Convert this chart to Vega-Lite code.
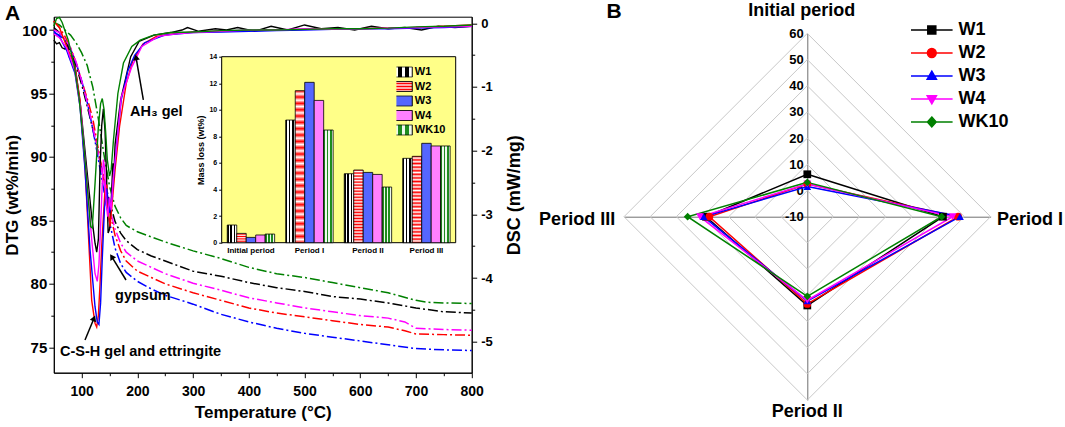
{
  "$schema": "https://vega.github.io/schema/vega-lite/v6.json",
  "width": 417.9,
  "height": 356,
  "autosize": {"type": "none"},
  "padding": {"left": 53.8, "top": 16.7, "right": 593.3, "bottom": 54.3},
  "background": "white",
  "config": {
    "font": "Liberation Sans",
    "axis": {"grid": false, "domainColor": "black", "tickColor": "black", "labelColor": "black", "titleColor": "black", "labelFontWeight": "bold", "titleFontWeight": "bold", "domainWidth": 1, "tickWidth": 1, "labelFont": "Liberation Sans", "titleFont": "Liberation Sans"},
    "view": {"stroke": "black", "strokeWidth": 1},
    "legend": {"labelColor": "black", "labelFont": "Liberation Sans"}
  },
  "datasets": {
    "tg": [
      {"s":"W1","t":50,"v":100.2},{"s":"W1","t":60,"v":99.8},{"s":"W1","t":70,"v":99.2},{"s":"W1","t":80,"v":98.3},{"s":"W1","t":90,"v":97.2},{"s":"W1","t":100,"v":95.7},{"s":"W1","t":110,"v":94.0},{"s":"W1","t":120,"v":92.2},{"s":"W1","t":130,"v":90.3},{"s":"W1","t":140,"v":88.3},{"s":"W1","t":150,"v":86.5},{"s":"W1","t":160,"v":84.9},{"s":"W1","t":170,"v":84.0},{"s":"W1","t":180,"v":83.4},{"s":"W1","t":200,"v":82.7},{"s":"W1","t":225,"v":82.2},{"s":"W1","t":250,"v":81.8},{"s":"W1","t":300,"v":81.0},{"s":"W1","t":350,"v":80.6},{"s":"W1","t":400,"v":80.1},{"s":"W1","t":450,"v":79.7},{"s":"W1","t":500,"v":79.4},{"s":"W1","t":550,"v":79.0},{"s":"W1","t":600,"v":78.8},{"s":"W1","t":650,"v":78.5},{"s":"W1","t":700,"v":78.1},{"s":"W1","t":750,"v":77.8},{"s":"W1","t":800,"v":77.7},
      {"s":"W2","t":50,"v":100.7},{"s":"W2","t":60,"v":100.2},{"s":"W2","t":70,"v":99.5},{"s":"W2","t":80,"v":98.6},{"s":"W2","t":90,"v":97.4},{"s":"W2","t":100,"v":96.0},{"s":"W2","t":110,"v":94.6},{"s":"W2","t":120,"v":93.0},{"s":"W2","t":130,"v":90.6},{"s":"W2","t":140,"v":88.2},{"s":"W2","t":150,"v":85.8},{"s":"W2","t":160,"v":83.8},{"s":"W2","t":170,"v":82.6},{"s":"W2","t":180,"v":81.8},{"s":"W2","t":200,"v":81.0},{"s":"W2","t":225,"v":80.5},{"s":"W2","t":250,"v":80.0},{"s":"W2","t":300,"v":79.3},{"s":"W2","t":350,"v":78.7},{"s":"W2","t":400,"v":78.1},{"s":"W2","t":450,"v":77.7},{"s":"W2","t":500,"v":77.4},{"s":"W2","t":550,"v":77.1},{"s":"W2","t":600,"v":76.8},{"s":"W2","t":650,"v":76.6},{"s":"W2","t":680,"v":76.3},{"s":"W2","t":700,"v":76.05},{"s":"W2","t":750,"v":76.0},{"s":"W2","t":800,"v":75.95},
      {"s":"W3","t":50,"v":99.8},{"s":"W3","t":60,"v":99.6},{"s":"W3","t":70,"v":99.2},{"s":"W3","t":80,"v":98.5},{"s":"W3","t":90,"v":97.4},{"s":"W3","t":100,"v":96.0},{"s":"W3","t":110,"v":94.3},{"s":"W3","t":120,"v":92.2},{"s":"W3","t":130,"v":89.8},{"s":"W3","t":140,"v":87.3},{"s":"W3","t":150,"v":84.9},{"s":"W3","t":160,"v":82.8},{"s":"W3","t":170,"v":81.6},{"s":"W3","t":180,"v":80.9},{"s":"W3","t":200,"v":80.2},{"s":"W3","t":225,"v":79.6},{"s":"W3","t":250,"v":79.1},{"s":"W3","t":300,"v":78.4},{"s":"W3","t":350,"v":77.6},{"s":"W3","t":400,"v":77.0},{"s":"W3","t":450,"v":76.5},{"s":"W3","t":500,"v":76.1},{"s":"W3","t":550,"v":75.8},{"s":"W3","t":600,"v":75.5},{"s":"W3","t":650,"v":75.2},{"s":"W3","t":700,"v":74.9},{"s":"W3","t":750,"v":74.8},{"s":"W3","t":800,"v":74.75},
      {"s":"W4","t":50,"v":100.0},{"s":"W4","t":60,"v":99.8},{"s":"W4","t":70,"v":99.3},{"s":"W4","t":80,"v":98.6},{"s":"W4","t":90,"v":97.5},{"s":"W4","t":100,"v":96.0},{"s":"W4","t":110,"v":94.3},{"s":"W4","t":120,"v":92.4},{"s":"W4","t":130,"v":90.2},{"s":"W4","t":140,"v":88.0},{"s":"W4","t":150,"v":86.0},{"s":"W4","t":160,"v":84.3},{"s":"W4","t":170,"v":83.2},{"s":"W4","t":180,"v":82.5},{"s":"W4","t":200,"v":81.8},{"s":"W4","t":225,"v":81.3},{"s":"W4","t":250,"v":80.8},{"s":"W4","t":300,"v":80.05},{"s":"W4","t":350,"v":79.5},{"s":"W4","t":400,"v":78.9},{"s":"W4","t":450,"v":78.5},{"s":"W4","t":500,"v":78.1},{"s":"W4","t":550,"v":77.8},{"s":"W4","t":600,"v":77.5},{"s":"W4","t":650,"v":77.3},{"s":"W4","t":680,"v":77.0},{"s":"W4","t":700,"v":76.5},{"s":"W4","t":750,"v":76.4},{"s":"W4","t":800,"v":76.35},
      {"s":"WK10","t":50,"v":100.6},{"s":"WK10","t":60,"v":100.4},{"s":"WK10","t":70,"v":100.0},{"s":"WK10","t":80,"v":99.6},{"s":"WK10","t":90,"v":99.0},{"s":"WK10","t":100,"v":98.2},{"s":"WK10","t":110,"v":97.2},{"s":"WK10","t":120,"v":95.5},{"s":"WK10","t":130,"v":93.0},{"s":"WK10","t":140,"v":90.2},{"s":"WK10","t":150,"v":87.7},{"s":"WK10","t":160,"v":86.1},{"s":"WK10","t":170,"v":85.2},{"s":"WK10","t":180,"v":84.6},{"s":"WK10","t":200,"v":84.1},{"s":"WK10","t":225,"v":83.7},{"s":"WK10","t":250,"v":83.3},{"s":"WK10","t":300,"v":82.6},{"s":"WK10","t":350,"v":82.0},{"s":"WK10","t":400,"v":81.3},{"s":"WK10","t":450,"v":80.8},{"s":"WK10","t":500,"v":80.5},{"s":"WK10","t":550,"v":80.1},{"s":"WK10","t":600,"v":79.7},{"s":"WK10","t":650,"v":79.3},{"s":"WK10","t":700,"v":78.7},{"s":"WK10","t":720,"v":78.55},{"s":"WK10","t":750,"v":78.5},{"s":"WK10","t":800,"v":78.45}
    ],
    "sol": [
      {"s":"W1","t":50,"v":99.2},{"s":"W1","t":55,"v":98.9},{"s":"W1","t":60,"v":99.0},{"s":"W1","t":65,"v":98.6},{"s":"W1","t":70,"v":98.5},{"s":"W1","t":75,"v":98.8},{"s":"W1","t":78,"v":97.9},{"s":"W1","t":82,"v":98.0},{"s":"W1","t":88,"v":97.2},{"s":"W1","t":98,"v":94.0},{"s":"W1","t":110,"v":88.7},{"s":"W1","t":118,"v":85.3},{"s":"W1","t":124,"v":83.2},{"s":"W1","t":127,"v":82.5},{"s":"W1","t":130,"v":83.5},{"s":"W1","t":133,"v":89.2},{"s":"W1","t":136,"v":92.5},{"s":"W1","t":139,"v":93.8},{"s":"W1","t":142,"v":92.0},{"s":"W1","t":145,"v":88.0},{"s":"W1","t":147.5,"v":84.0},{"s":"W1","t":150,"v":84.3},{"s":"W1","t":153,"v":86.5},{"s":"W1","t":156,"v":89.5},{"s":"W1","t":158,"v":88.8},{"s":"W1","t":160,"v":91.0},{"s":"W1","t":170,"v":94.5},{"s":"W1","t":188,"v":97.9},{"s":"W1","t":203,"v":99.1},{"s":"W1","t":230,"v":99.6},{"s":"W1","t":260,"v":99.8},{"s":"W1","t":280,"v":100.0},{"s":"W1","t":290,"v":100.2},{"s":"W1","t":310,"v":99.9},{"s":"W1","t":340,"v":100.1},{"s":"W1","t":360,"v":100.0},{"s":"W1","t":380,"v":100.2},{"s":"W1","t":410,"v":99.9},{"s":"W1","t":440,"v":100.3},{"s":"W1","t":470,"v":100.0},{"s":"W1","t":500,"v":100.4},{"s":"W1","t":530,"v":100.1},{"s":"W1","t":560,"v":100.2},{"s":"W1","t":590,"v":100.0},{"s":"W1","t":620,"v":100.3},{"s":"W1","t":650,"v":100.1},{"s":"W1","t":680,"v":100.2},{"s":"W1","t":710,"v":100.0},{"s":"W1","t":740,"v":100.3},{"s":"W1","t":770,"v":100.2},{"s":"W1","t":800,"v":100.3},
      {"s":"W2","t":50,"v":100.7},{"s":"W2","t":60,"v":100.2},{"s":"W2","t":73,"v":98.7},{"s":"W2","t":88,"v":97.1},{"s":"W2","t":97,"v":94.5},{"s":"W2","t":106,"v":89.2},{"s":"W2","t":112,"v":84.0},{"s":"W2","t":118,"v":78.7},{"s":"W2","t":124,"v":76.9},{"s":"W2","t":127,"v":76.6},{"s":"W2","t":130,"v":77.5},{"s":"W2","t":133,"v":80.0},{"s":"W2","t":136,"v":83.0},{"s":"W2","t":139,"v":85.3},{"s":"W2","t":142,"v":87.5},{"s":"W2","t":145,"v":87.8},{"s":"W2","t":148,"v":85.5},{"s":"W2","t":151,"v":84.5},{"s":"W2","t":155,"v":86.5},{"s":"W2","t":160,"v":89.0},{"s":"W2","t":168,"v":92.4},{"s":"W2","t":180,"v":95.8},{"s":"W2","t":192,"v":97.6},{"s":"W2","t":210,"v":98.9},{"s":"W2","t":234,"v":99.5},{"s":"W2","t":264,"v":99.7},{"s":"W2","t":300,"v":99.85},{"s":"W2","t":350,"v":99.9},{"s":"W2","t":400,"v":99.95},{"s":"W2","t":450,"v":100.0},{"s":"W2","t":500,"v":100.05},{"s":"W2","t":550,"v":100.1},{"s":"W2","t":600,"v":100.1},{"s":"W2","t":650,"v":100.15},{"s":"W2","t":700,"v":100.2},{"s":"W2","t":750,"v":100.3},{"s":"W2","t":800,"v":100.4},
      {"s":"W3","t":50,"v":99.9},{"s":"W3","t":60,"v":99.5},{"s":"W3","t":73,"v":98.4},{"s":"W3","t":88,"v":96.6},{"s":"W3","t":97,"v":94.0},{"s":"W3","t":106,"v":89.0},{"s":"W3","t":115,"v":82.7},{"s":"W3","t":124,"v":78.2},{"s":"W3","t":128,"v":77.0},{"s":"W3","t":131,"v":76.8},{"s":"W3","t":134,"v":78.5},{"s":"W3","t":137,"v":82.0},{"s":"W3","t":141,"v":86.0},{"s":"W3","t":145,"v":87.5},{"s":"W3","t":150,"v":85.6},{"s":"W3","t":154,"v":86.8},{"s":"W3","t":159,"v":89.2},{"s":"W3","t":165,"v":92.0},{"s":"W3","t":171,"v":94.5},{"s":"W3","t":183,"v":96.8},{"s":"W3","t":195,"v":98.0},{"s":"W3","t":213,"v":99.0},{"s":"W3","t":249,"v":99.6},{"s":"W3","t":300,"v":99.8},{"s":"W3","t":350,"v":99.85},{"s":"W3","t":400,"v":99.9},{"s":"W3","t":450,"v":99.95},{"s":"W3","t":500,"v":100.0},{"s":"W3","t":550,"v":100.05},{"s":"W3","t":600,"v":100.1},{"s":"W3","t":650,"v":100.1},{"s":"W3","t":700,"v":100.15},{"s":"W3","t":750,"v":100.2},{"s":"W3","t":800,"v":100.3},
      {"s":"W4","t":50,"v":99.7},{"s":"W4","t":60,"v":99.4},{"s":"W4","t":73,"v":98.6},{"s":"W4","t":88,"v":96.8},{"s":"W4","t":98,"v":93.8},{"s":"W4","t":110,"v":87.9},{"s":"W4","t":118,"v":83.5},{"s":"W4","t":124,"v":80.8},{"s":"W4","t":128,"v":80.2},{"s":"W4","t":131,"v":81.5},{"s":"W4","t":134,"v":84.5},{"s":"W4","t":137,"v":88.0},{"s":"W4","t":139,"v":89.8},{"s":"W4","t":141,"v":89.2},{"s":"W4","t":144,"v":86.5},{"s":"W4","t":147,"v":85.3},{"s":"W4","t":150,"v":86.8},{"s":"W4","t":153,"v":85.8},{"s":"W4","t":157,"v":88.5},{"s":"W4","t":162,"v":90.5},{"s":"W4","t":171,"v":94.7},{"s":"W4","t":190,"v":97.1},{"s":"W4","t":208,"v":98.7},{"s":"W4","t":238,"v":99.5},{"s":"W4","t":270,"v":99.7},{"s":"W4","t":300,"v":99.8},{"s":"W4","t":350,"v":99.9},{"s":"W4","t":400,"v":100.0},{"s":"W4","t":450,"v":100.0},{"s":"W4","t":500,"v":100.1},{"s":"W4","t":550,"v":100.05},{"s":"W4","t":600,"v":100.1},{"s":"W4","t":650,"v":100.15},{"s":"W4","t":700,"v":100.2},{"s":"W4","t":750,"v":100.25},{"s":"W4","t":800,"v":100.3},
      {"s":"WK10","t":50,"v":100.3},{"s":"WK10","t":55,"v":100.9},{"s":"WK10","t":60,"v":101.0},{"s":"WK10","t":65,"v":100.6},{"s":"WK10","t":76,"v":99.2},{"s":"WK10","t":87,"v":97.1},{"s":"WK10","t":95,"v":94.8},{"s":"WK10","t":103,"v":91.3},{"s":"WK10","t":110,"v":87.7},{"s":"WK10","t":116,"v":84.5},{"s":"WK10","t":119,"v":84.4},{"s":"WK10","t":124,"v":87.9},{"s":"WK10","t":130,"v":92.4},{"s":"WK10","t":134,"v":94.2},{"s":"WK10","t":137,"v":94.6},{"s":"WK10","t":140,"v":93.8},{"s":"WK10","t":143,"v":92.0},{"s":"WK10","t":146,"v":89.8},{"s":"WK10","t":150,"v":88.5},{"s":"WK10","t":153,"v":89.0},{"s":"WK10","t":157,"v":91.3},{"s":"WK10","t":165,"v":95.0},{"s":"WK10","t":175,"v":97.4},{"s":"WK10","t":190,"v":98.7},{"s":"WK10","t":205,"v":99.2},{"s":"WK10","t":229,"v":99.6},{"s":"WK10","t":260,"v":99.8},{"s":"WK10","t":300,"v":99.85},{"s":"WK10","t":350,"v":99.95},{"s":"WK10","t":400,"v":100.0},{"s":"WK10","t":450,"v":100.0},{"s":"WK10","t":500,"v":100.05},{"s":"WK10","t":550,"v":100.1},{"s":"WK10","t":600,"v":100.1},{"s":"WK10","t":650,"v":100.15},{"s":"WK10","t":700,"v":100.25},{"s":"WK10","t":750,"v":100.3},{"s":"WK10","t":800,"v":100.4}
    ],
    "bars": [
      {"p":"Initial period","m":"W1","v":1.33},{"p":"Initial period","m":"W2","v":0.7},{"p":"Initial period","m":"W3","v":0.4},{"p":"Initial period","m":"W4","v":0.58},{"p":"Initial period","m":"WK10","v":0.65},
      {"p":"Period I","m":"W1","v":9.23},{"p":"Period I","m":"W2","v":11.44},{"p":"Period I","m":"W3","v":12.07},{"p":"Period I","m":"W4","v":10.71},{"p":"Period I","m":"WK10","v":8.48},
      {"p":"Period II","m":"W1","v":5.19},{"p":"Period II","m":"W2","v":5.47},{"p":"Period II","m":"W3","v":5.29},{"p":"Period II","m":"W4","v":5.14},{"p":"Period II","m":"WK10","v":4.19},
      {"p":"Period III","m":"W1","v":6.35},{"p":"Period III","m":"W2","v":6.5},{"p":"Period III","m":"W3","v":7.48},{"p":"Period III","m":"W4","v":7.28},{"p":"Period III","m":"WK10","v":7.28}
    ],
    "radar": [
      {"s":"W1","ax":"Initial period","v":6.2},{"s":"W1","ax":"Period I","v":41.8},{"s":"W1","ax":"Period II","v":23.9},{"s":"W1","ax":"Period III","v":28.7},
      {"s":"W2","ax":"Initial period","v":2.5},{"s":"W2","ax":"Period I","v":47.6},{"s":"W2","ax":"Period II","v":23.3},{"s":"W2","ax":"Period III","v":27.4},
      {"s":"W3","ax":"Initial period","v":1.5},{"s":"W3","ax":"Period I","v":48.3},{"s":"W3","ax":"Period II","v":22.2},{"s":"W3","ax":"Period III","v":29.6},
      {"s":"W4","ax":"Initial period","v":2.5},{"s":"W4","ax":"Period I","v":45.5},{"s":"W4","ax":"Period II","v":21.9},{"s":"W4","ax":"Period III","v":31.0},
      {"s":"WK10","ax":"Initial period","v":3.1},{"s":"WK10","ax":"Period I","v":41.3},{"s":"WK10","ax":"Period II","v":20.4},{"s":"WK10","ax":"Period III","v":35.7}
    ],
    "grid": [
      {"g":0,"ax":"Initial period"},{"g":0,"ax":"Period I"},{"g":0,"ax":"Period II"},{"g":0,"ax":"Period III"},
      {"g":10,"ax":"Initial period"},{"g":10,"ax":"Period I"},{"g":10,"ax":"Period II"},{"g":10,"ax":"Period III"},
      {"g":20,"ax":"Initial period"},{"g":20,"ax":"Period I"},{"g":20,"ax":"Period II"},{"g":20,"ax":"Period III"},
      {"g":30,"ax":"Initial period"},{"g":30,"ax":"Period I"},{"g":30,"ax":"Period II"},{"g":30,"ax":"Period III"},
      {"g":40,"ax":"Initial period"},{"g":40,"ax":"Period I"},{"g":40,"ax":"Period II"},{"g":40,"ax":"Period III"},
      {"g":50,"ax":"Initial period"},{"g":50,"ax":"Period I"},{"g":50,"ax":"Period II"},{"g":50,"ax":"Period III"},
      {"g":60,"ax":"Initial period"},{"g":60,"ax":"Period I"},{"g":60,"ax":"Period II"},{"g":60,"ax":"Period III"}
    ],
    "arr": [
      {"k":1,"t0":210.7,"d0":-1.204,"t1":197.6,"d1":-0.534},
      {"k":2,"t0":179.6,"d0":-4.031,"t1":153.9,"d1":-3.665},
      {"k":3,"t0":106,"d0":-4.973,"t1":122.2,"d1":-4.632}
    ],
    "ann": [
      {"lab":"A","t":-37.6,"d":0.154},
      {"lab":"AH₃ gel","t":186.8,"d":-1.393},
      {"lab":"gypsum","t":159.9,"d":-4.282},
      {"lab":"C-S-H gel and ettringite","t":61.1,"d":-5.157}
    ],
    "rlab": [
      {"lab":"Initial period","x":-2.1,"y":78.5},
      {"lab":"Period I","x":85.0,"y":-1.2},
      {"lab":"Period II","x":0,"y":-74.6},
      {"lab":"Period III","x":-87.9,"y":-1.2},
      {"lab":"B","x":-73.8,"y":78.3}
    ]
  },
  "resolve": {"scale": {"x": "independent", "y": "independent", "color": "independent", "fill": "independent", "stroke": "independent", "shape": "independent"}},
  "layer": [
    {
      "resolve": {"scale": {"y": "independent"}, "axis": {"x": "independent", "y": "independent"}},
      "layer": [
        {
          "data": {"name": "tg"},
          "mark": {"type": "line", "strokeWidth": 1.5, "strokeDash": [10, 3, 2, 3]},
          "encoding": {
            "x": {"field": "t", "type": "quantitative", "scale": {"domain": [50, 800], "nice": false, "zero": false},
                  "axis": {"orient": "bottom", "values": [100, 200, 300, 400, 500, 600, 700, 800], "title": "Temperature (°C)", "labelFlush": false, "tickSize": 5, "labelPadding": 7, "titlePadding": 6, "labelFontSize": 14, "titleFontSize": 17}},
            "y": {"field": "v", "type": "quantitative", "scale": {"domain": [73.0, 101.05], "nice": false, "zero": false},
                  "axis": {"orient": "left", "values": [75, 80, 85, 90, 95, 100], "title": "DTG (wt%/min)", "tickSize": 5, "labelPadding": 2, "titlePadding": 0, "labelFontSize": 15, "titleFontSize": 17}},
            "color": {"field": "s", "type": "nominal", "scale": {"domain": ["W1", "W2", "W3", "W4", "WK10"], "range": ["#000000", "#ff0000", "#0000ff", "#ff00ff", "#008000"]}, "legend": null}
          }
        },
        {
          "data": {"name": "sol"},
          "mark": {"type": "line", "strokeWidth": 1.4},
          "encoding": {
            "x": {"field": "t", "type": "quantitative", "scale": {"domain": [50, 800], "nice": false, "zero": false},
                  "axis": {"orient": "bottom", "values": [150, 250, 350, 450, 550, 650, 750], "labels": false, "tickSize": 3, "domain": false, "title": null}},
            "y": {"field": "v", "type": "quantitative", "scale": {"domain": [73.0, 101.05], "nice": false, "zero": false},
                  "axis": {"orient": "left", "values": [77.5, 82.5, 87.5, 92.5, 97.5], "labels": false, "tickSize": 3, "domain": false, "title": null}},
            "color": {"field": "s", "type": "nominal", "scale": {"domain": ["W1", "W2", "W3", "W4", "WK10"], "range": ["#000000", "#ff0000", "#0000ff", "#ff00ff", "#008000"]}, "legend": null}
          }
        },
        {
          "data": {"name": "ann"},
          "mark": {"type": "text", "align": "left", "baseline": "middle", "fontWeight": "bold", "color": "black"},
          "encoding": {
            "x": {"field": "t", "type": "quantitative", "scale": {"domain": [50, 800], "nice": false, "zero": false}, "axis": null},
            "y": {"field": "d", "type": "quantitative", "scale": {"domain": [-5.487, 0.104], "nice": false, "zero": false},
                  "axis": {"orient": "right", "values": [-5, -4, -3, -2, -1, 0], "labelExpr": "'' + datum.value", "title": "DSC (mW/mg)", "titleAngle": 270, "tickSize": 5, "labelPadding": 4, "titlePadding": 31, "labelFontSize": 13, "titleFontSize": 18}},
            "text": {"field": "lab"},
            "size": {"condition": {"test": "datum.lab === 'A'", "value": 21}, "value": 14.5}
          }
        },
        {
          "data": {"name": "arr"},
          "mark": {"type": "rule", "strokeWidth": 1.5, "color": "black"},
          "encoding": {
            "x": {"field": "t0", "type": "quantitative", "scale": {"domain": [50, 800], "nice": false, "zero": false}, "axis": null},
            "x2": {"field": "t1"},
            "y": {"field": "d0", "type": "quantitative", "scale": {"domain": [-5.487, 0.104], "nice": false, "zero": false},
                  "axis": {"orient": "right", "values": [-4.5, -3.5, -2.5, -1.5, -0.5], "labels": false, "tickSize": 3, "domain": false, "title": null}},
            "y2": {"field": "d1"}
          }
        },
        {
          "data": {"name": "arr"},
          "mark": {"type": "point", "shape": "triangle-up", "filled": true, "color": "black", "size": 45, "opacity": 1},
          "encoding": {
            "x": {"field": "t1", "type": "quantitative", "scale": {"domain": [50, 800], "nice": false, "zero": false}, "axis": null},
            "y": {"field": "d1", "type": "quantitative", "scale": {"domain": [-5.487, 0.104], "nice": false, "zero": false}, "axis": null},
            "angle": {"condition": [{"test": "datum.k === 1", "value": 350}, {"test": "datum.k === 2", "value": 328}], "value": 22}
          }
        }
      ]
    },
    {
      "data": {"values": [{}]},
      "mark": {"type": "rect", "fill": "#ffff88", "stroke": "black", "strokeWidth": 1},
      "encoding": {
        "x": {"datum": 0, "type": "quantitative", "scale": {"domain": [0, 1], "range": [167.9, 401.9], "nice": false, "zero": false}, "axis": null},
        "x2": {"datum": 1},
        "y": {"datum": 0, "type": "quantitative", "scale": {"domain": [0, 1], "range": [226, 40], "nice": false, "zero": false}, "axis": null},
        "y2": {"datum": 1}
      }
    },
    {
      "data": {"name": "bars"},
      "mark": {"type": "bar", "stroke": "black", "strokeWidth": 0.8},
      "encoding": {
        "x": {"field": "p", "type": "nominal", "sort": ["Initial period", "Period I", "Period II", "Period III"],
              "scale": {"range": [167.9, 401.9], "paddingInner": 0.19, "paddingOuter": 0.095},
              "axis": {"orient": "bottom", "offset": -130, "title": null, "labelAngle": 0, "ticks": false, "labelFontSize": 8, "labelPadding": 4, "domain": false}},
        "xOffset": {"field": "m", "type": "nominal", "sort": ["W1", "W2", "W3", "W4", "WK10"]},
        "y": {"field": "v", "type": "quantitative", "scale": {"domain": [0, 14], "range": [226, 40], "nice": false},
              "axis": {"orient": "left", "offset": -167.9, "values": [0, 2, 4, 6, 8, 10, 12, 14], "title": "Mass loss (wt%)", "tickSize": 3, "labelFontSize": 7, "titleFontSize": 9, "labelPadding": 2, "titlePadding": 3}},
        "fill": {"field": "m", "type": "nominal",
                 "scale": {"domain": ["W1", "W2", "W3", "W4", "WK10"], "range": [
                   {"expr": "{gradient:'linear',x1:0,y1:0,x2:1,y2:0,stops:[{offset:0,color:'#000'},{offset:0.16,color:'#000'},{offset:0.16,color:'#fff'},{offset:0.333,color:'#fff'},{offset:0.333,color:'#000'},{offset:0.493,color:'#000'},{offset:0.493,color:'#fff'},{offset:0.667,color:'#fff'},{offset:0.667,color:'#000'},{offset:0.827,color:'#000'},{offset:0.827,color:'#fff'},{offset:1,color:'#fff'}]}"},
                   {"expr": "{gradient:'linear',x1:0,y1:0,x2:0,y2:1,stops:[{offset:0,color:'red'},{offset:0.0208,color:'white'},{offset:0.0417,color:'red'},{offset:0.0625,color:'white'},{offset:0.0833,color:'red'},{offset:0.1042,color:'white'},{offset:0.125,color:'red'},{offset:0.1458,color:'white'},{offset:0.1667,color:'red'},{offset:0.1875,color:'white'},{offset:0.2083,color:'red'},{offset:0.2292,color:'white'},{offset:0.25,color:'red'},{offset:0.2708,color:'white'},{offset:0.2917,color:'red'},{offset:0.3125,color:'white'},{offset:0.3333,color:'red'},{offset:0.3542,color:'white'},{offset:0.375,color:'red'},{offset:0.3958,color:'white'},{offset:0.4167,color:'red'},{offset:0.4375,color:'white'},{offset:0.4583,color:'red'},{offset:0.4792,color:'white'},{offset:0.5,color:'red'},{offset:0.5208,color:'white'},{offset:0.5417,color:'red'},{offset:0.5625,color:'white'},{offset:0.5833,color:'red'},{offset:0.6042,color:'white'},{offset:0.625,color:'red'},{offset:0.6458,color:'white'},{offset:0.6667,color:'red'},{offset:0.6875,color:'white'},{offset:0.7083,color:'red'},{offset:0.7292,color:'white'},{offset:0.75,color:'red'},{offset:0.7708,color:'white'},{offset:0.7917,color:'red'},{offset:0.8125,color:'white'},{offset:0.8333,color:'red'},{offset:0.8542,color:'white'},{offset:0.875,color:'red'},{offset:0.8958,color:'white'},{offset:0.9167,color:'red'},{offset:0.9375,color:'white'},{offset:0.9583,color:'red'},{offset:0.9792,color:'white'},{offset:1,color:'red'}]}"},
                   "#5566ff",
                   "#ff80ff",
                   {"expr": "{gradient:'linear',x1:0,y1:0,x2:1,y2:0,stops:[{offset:0,color:'#1e8c1e'},{offset:0.1667,color:'#1e8c1e'},{offset:0.1667,color:'#eef8ee'},{offset:0.3333,color:'#eef8ee'},{offset:0.3333,color:'#1e8c1e'},{offset:0.5,color:'#1e8c1e'},{offset:0.5,color:'#eef8ee'},{offset:0.6667,color:'#eef8ee'},{offset:0.6667,color:'#1e8c1e'},{offset:0.8333,color:'#1e8c1e'},{offset:0.8333,color:'#eef8ee'},{offset:1,color:'#eef8ee'}]}"}
                 ]},
                 "legend": {"orient": "none", "legendX": 342.6, "legendY": 49.8, "title": null, "symbolType": "M-2.07,-1.03H2.07V1.03H-2.07Z", "symbolSize": 100, "symbolStrokeColor": "black", "symbolStrokeWidth": 1, "labelFontSize": 11, "labelFontWeight": "bold", "labelOffset": 7.4, "clipHeight": 11, "rowPadding": 2.5, "padding": 0}}
      }
    },
    {
      "data": {"name": "grid"},
      "transform": [
        {"calculate": "datum.g + 10", "as": "r"},
        {"calculate": "datum.ax === 'Period I' ? datum.r : (datum.ax === 'Period III' ? -datum.r : 0)", "as": "px"},
        {"calculate": "datum.ax === 'Initial period' ? datum.r : (datum.ax === 'Period II' ? -datum.r : 0)", "as": "py"}
      ],
      "mark": {"type": "line", "interpolate": "linear-closed", "stroke": "#c8c8c8", "strokeWidth": 1},
      "encoding": {
        "x": {"field": "px", "type": "quantitative", "scale": {"domain": [-70, 70], "range": [570.2, 936.8], "nice": false, "zero": false},
              "axis": {"orient": "bottom", "offset": -156, "labels": false, "ticks": false, "domainColor": "#707070", "title": null}},
        "y": {"field": "py", "type": "quantitative", "scale": {"domain": [-70, 70], "range": [383.3, 16.7], "nice": false, "zero": false},
              "axis": {"orient": "left", "offset": -753.5, "values": [0, 10, 20, 30, 40, 50, 60, 70], "labelExpr": "'' + (datum.value - 10)", "ticks": false, "domainColor": "#707070", "labelFontSize": 13, "labelPadding": 4, "title": null}},
        "detail": {"field": "g", "type": "nominal"},
        "order": {"field": "ax"}
      }
    },
    {
      "data": {"name": "radar"},
      "transform": [
        {"calculate": "datum.v + 10", "as": "r"},
        {"calculate": "datum.ax === 'Period I' ? datum.r : (datum.ax === 'Period III' ? -datum.r : 0)", "as": "px"},
        {"calculate": "datum.ax === 'Initial period' ? datum.r : (datum.ax === 'Period II' ? -datum.r : 0)", "as": "py"}
      ],
      "mark": {"type": "line", "interpolate": "linear-closed", "strokeWidth": 1.5},
      "encoding": {
        "x": {"field": "px", "type": "quantitative", "scale": {"domain": [-70, 70], "range": [570.2, 936.8], "nice": false, "zero": false}, "axis": null},
        "y": {"field": "py", "type": "quantitative", "scale": {"domain": [-70, 70], "range": [383.3, 16.7], "nice": false, "zero": false}, "axis": null},
        "color": {"field": "s", "type": "nominal", "scale": {"domain": ["W1", "W2", "W3", "W4", "WK10"], "range": ["#000000", "#ff0000", "#0000ff", "#ff00ff", "#008000"]}, "legend": null},
        "order": {"field": "ax"}
      }
    },
    {
      "data": {"name": "radar"},
      "transform": [
        {"calculate": "datum.v + 10", "as": "r"},
        {"calculate": "datum.ax === 'Period I' ? datum.r : (datum.ax === 'Period III' ? -datum.r : 0)", "as": "px"},
        {"calculate": "datum.ax === 'Initial period' ? datum.r : (datum.ax === 'Period II' ? -datum.r : 0)", "as": "py"}
      ],
      "mark": {"type": "point", "filled": true, "size": 60, "opacity": 1},
      "encoding": {
        "x": {"field": "px", "type": "quantitative", "scale": {"domain": [-70, 70], "range": [570.2, 936.8], "nice": false, "zero": false}, "axis": null},
        "y": {"field": "py", "type": "quantitative", "scale": {"domain": [-70, 70], "range": [383.3, 16.7], "nice": false, "zero": false}, "axis": null},
        "shape": {"field": "s", "type": "nominal", "scale": {"domain": ["W1", "W2", "W3", "W4", "WK10"], "range": ["square", "circle", "triangle-up", "triangle-down", "diamond"]}, "legend": null},
        "color": {"field": "s", "type": "nominal", "scale": {"domain": ["W1", "W2", "W3", "W4", "WK10"], "range": ["#000000", "#ff0000", "#0000ff", "#ff00ff", "#008000"]}, "legend": null}
      }
    },
    {
      "data": {"name": "radar"},
      "transform": [
        {"calculate": "datum.v + 10", "as": "r"},
        {"calculate": "datum.ax === 'Period I' ? datum.r : (datum.ax === 'Period III' ? -datum.r : 0)", "as": "px"},
        {"calculate": "datum.ax === 'Initial period' ? datum.r : (datum.ax === 'Period II' ? -datum.r : 0)", "as": "py"}
      ],
      "mark": {"type": "point", "filled": true, "size": 256, "opacity": 0},
      "encoding": {
        "x": {"field": "px", "type": "quantitative", "scale": {"domain": [-70, 70], "range": [570.2, 936.8], "nice": false, "zero": false}, "axis": null},
        "y": {"field": "py", "type": "quantitative", "scale": {"domain": [-70, 70], "range": [383.3, 16.7], "nice": false, "zero": false}, "axis": null},
        "fill": {"field": "s", "type": "nominal", "scale": {"domain": ["W1", "W2", "W3", "W4", "WK10"], "range": ["#000000", "#ff0000", "#0000ff", "#ff00ff", "#008000"]},
                 "legend": {"orient": "none", "legendX": 869, "legendY": 4.3, "title": null, "symbolSize": 256, "symbolStrokeWidth": 1.5, "symbolOpacity": 1, "labelFontSize": 18, "labelFontWeight": "bold", "labelOffset": 17.8, "rowPadding": 5, "padding": 0}},
        "stroke": {"field": "s", "type": "nominal", "scale": {"domain": ["W1", "W2", "W3", "W4", "WK10"], "range": ["#000000", "#ff0000", "#0000ff", "#ff00ff", "#008000"]},
                 "legend": {"orient": "none", "legendX": 869, "legendY": 4.3, "title": null, "symbolSize": 256, "symbolStrokeWidth": 1.5, "symbolOpacity": 1, "labelFontSize": 18, "labelFontWeight": "bold", "labelOffset": 17.8, "rowPadding": 5, "padding": 0}},
        "shape": {"field": "s", "type": "nominal", "scale": {"domain": ["W1", "W2", "W3", "W4", "WK10"], "range": [
                    "M-2.6,0H2.6M-0.5,-0.5H0.5V0.5H-0.5Z",
                    "M-2.6,0H2.6M-0.55,0A0.55,0.55,0,1,0,0.55,0A0.55,0.55,0,1,0,-0.55,0Z",
                    "M-2.6,0H2.6M0,-0.6L0.58,0.42L-0.58,0.42Z",
                    "M-2.6,0H2.6M0,0.6L0.58,-0.42L-0.58,-0.42Z",
                    "M-2.6,0H2.6M0,-0.62L0.55,0L0,0.62L-0.55,0Z"]},
                 "legend": {"orient": "none", "legendX": 869, "legendY": 4.3, "title": null, "symbolSize": 256, "symbolStrokeWidth": 1.5, "symbolOpacity": 1, "labelFontSize": 18, "labelFontWeight": "bold", "labelOffset": 17.8, "rowPadding": 5, "padding": 0}}
      }
    },
    {
      "data": {"name": "rlab"},
      "mark": {"type": "text", "align": "center", "baseline": "middle", "fontWeight": "bold", "color": "black"},
      "encoding": {
        "x": {"field": "x", "type": "quantitative", "scale": {"domain": [-70, 70], "range": [570.2, 936.8], "nice": false, "zero": false}, "axis": null},
        "y": {"field": "y", "type": "quantitative", "scale": {"domain": [-70, 70], "range": [383.3, 16.7], "nice": false, "zero": false}, "axis": null},
        "text": {"field": "lab"},
        "size": {"condition": {"test": "datum.lab === 'B'", "value": 21}, "value": 18}
      }
    }
  ]
}
